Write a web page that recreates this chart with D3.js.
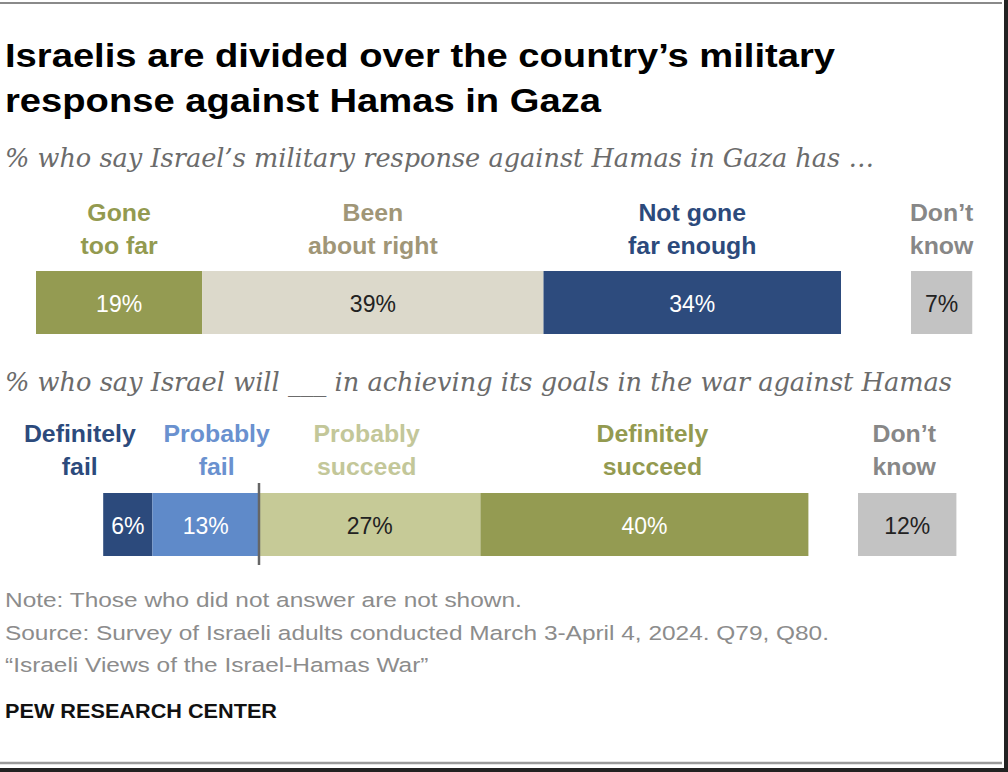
<!DOCTYPE html>
<html>
<head>
<meta charset="utf-8">
<script src="https://cdn.jsdelivr.net/npm/d3@7"></script>
<style>
  body { margin: 0; background: #fff; }
  svg { display: block; }
  text { font-family: "Liberation Sans", Arial, sans-serif; }
  text.serif { font-family: "DejaVu Serif", "Liberation Serif", serif; font-style: italic; }
</style>
</head>
<body>
<div id="chart"></div>
<script>
// Data
const q1Labels = [["Gone", "too far"], ["Been", "about right"], ["Not gone", "far enough"]];
const q1Values = [19, 39, 34];
const q1DontKnow = 7;

const q2Labels = [["Definitely", "fail"], ["Probably", "fail"], ["Probably", "succeed"], ["Definitely", "succeed"]];
const q2Values = [6, 13, 27, 40];
const q2Sides = [-1, -1, 1, 1];
const q2DontKnow = 12;

const dkLabel = ["Don\u2019t", "know"];

// Colours
const q1Colors = ["#949b52", "#dcd9cb", "#2d4b7d"];
const q1LabelColors = ["#939a50", "#a09677", "#2c4a7c"];
const q1TextColors = ["#fff", "#222", "#fff"];
const q2Colors = ["#2c4a7c", "#5f8ac9", "#c6ca97", "#949b52"];
const q2LabelColors = ["#2c4a7c", "#6a91cf", "#c3c799", "#939a50"];
const q2TextColors = ["#fff", "#fff", "#222", "#fff"];
const DK_COLOR = "#c3c3c3";
const DK_LABEL_COLOR = "#878787";

// Layout
const WIDTH = 1008;
const HEIGHT = 772;
const BAR1 = { x0: 36, top: 271, height: 63, dkX: 911, pxPerPct: 8.75 };
const BAR2 = { zero: 259, top: 493, height: 63, dkX: 858, pxPerPct: 8.2 };
const Q2_LABEL_NUDGE = [-48, 11, -3, 8, -3];

const svg = d3
  .select("#chart")
  .append("svg")
  .attr("width", WIDTH)
  .attr("height", HEIGHT);

svg.append("rect").attr("width", WIDTH).attr("height", HEIGHT).attr("fill", "#fff");

// squeeze/stretch a text node to a width
function fitTo(sel, width) {
  sel.attr("textLength", width).attr("lengthAdjust", "spacingAndGlyphs");
}
function scaleText(sel, k) {
  sel.each(function () {
    const w = this.getComputedTextLength();
    d3.select(this).attr("textLength", w * k).attr("lengthAdjust", "spacingAndGlyphs");
  });
}

drawFrame();
drawHeader();
drawQ1();
drawQ2();
drawFooter();

function drawFrame() {
  svg.append("line").attr("x1", 0).attr("x2", 1002).attr("y1", 3).attr("y2", 3)
    .attr("stroke", "#8a8a8a").attr("stroke-width", 2);
  svg.append("line").attr("x1", 0).attr("x2", 1002).attr("y1", 763).attr("y2", 763)
    .attr("stroke", "#9a9a9a").attr("stroke-width", 2.5);
  svg.append("rect").attr("x", 0).attr("y", 768).attr("width", WIDTH).attr("height", 4).attr("fill", "#222");
  svg.append("rect").attr("x", 1004).attr("y", 0).attr("width", 4).attr("height", HEIGHT).attr("fill", "#222");
}

function drawHeader() {
  const t1 = svg.append("text").attr("x", 5).attr("y", 67)
    .attr("font-size", 34).attr("font-weight", "bold").attr("fill", "#000")
    .text("Israelis are divided over the country\u2019s military");
  const k = 830 / t1.node().getComputedTextLength();
  fitTo(t1, 830);
  const t2 = svg.append("text").attr("x", 5).attr("y", 112)
    .attr("font-size", 34).attr("font-weight", "bold").attr("fill", "#000")
    .text("response against Hamas in Gaza");
  scaleText(t2, k);

  const s1 = svg.append("text").attr("class", "serif").attr("x", 5).attr("y", 167)
    .attr("font-size", 26).attr("fill", "#6b6b6b")
    .text("% who say Israel\u2019s military response against Hamas in Gaza has \u2026");
  fitTo(s1, 869);
}

function drawLabel(x, yTop, lines, color) {
  const t = svg.append("text").attr("text-anchor", "middle")
    .attr("font-size", 23).attr("font-weight", "bold").attr("fill", color);
  lines.forEach((line, i) => {
    t.append("tspan").attr("x", x).attr("y", yTop + i * 33).text(line);
  });
  t.selectAll("tspan").call(scaleText, 1.08);
}

function drawQ1() {
  const x = d3.scaleLinear().domain([0, 100]).range([0, 100 * BAR1.pxPerPct]);
  let acc = 0;
  const segs = q1Values.map((v, i) => {
    const s = { v, i, start: acc, end: acc + v };
    acc += v;
    return s;
  });

  const g = svg.append("g").attr("class", "q1");
  g.selectAll("rect.seg").data(segs).enter().append("rect")
    .attr("class", "seg")
    .attr("x", (d) => BAR1.x0 + x(d.start))
    .attr("y", BAR1.top)
    .attr("width", (d) => x(d.v))
    .attr("height", BAR1.height)
    .attr("fill", (d) => q1Colors[d.i]);

  g.selectAll("text.val").data(segs).enter().append("text")
    .attr("class", "val")
    .attr("x", (d) => BAR1.x0 + x((d.start + d.end) / 2))
    .attr("y", BAR1.top + BAR1.height / 2 + 9)
    .attr("text-anchor", "middle").attr("font-size", 23)
    .attr("fill", (d) => q1TextColors[d.i])
    .text((d) => d.v + "%");

  segs.forEach((d) => {
    drawLabel(BAR1.x0 + x((d.start + d.end) / 2), 221, q1Labels[d.i], q1LabelColors[d.i]);
  });

  // don't know
  g.append("rect").attr("x", BAR1.dkX).attr("y", BAR1.top)
    .attr("width", x(q1DontKnow)).attr("height", BAR1.height).attr("fill", DK_COLOR);
  g.append("text").attr("x", BAR1.dkX + x(q1DontKnow) / 2).attr("y", BAR1.top + BAR1.height / 2 + 9)
    .attr("text-anchor", "middle").attr("font-size", 23).attr("fill", "#222")
    .text(q1DontKnow + "%");
  drawLabel(BAR1.dkX + x(q1DontKnow) / 2, 221, dkLabel, DK_LABEL_COLOR);
}

function drawQ2() {
  const s2 = svg.append("text").attr("class", "serif").attr("x", 5).attr("y", 391)
    .attr("font-size", 26).attr("fill", "#6b6b6b")
    .text("% who say Israel will ___ in achieving its goals in the war against Hamas");
  fitTo(s2, 947);

  const x = d3.scaleLinear()
    .domain([-100, 100])
    .range([BAR2.zero - 100 * BAR2.pxPerPct, BAR2.zero + 100 * BAR2.pxPerPct]);
  const len = (v) => x(v) - x(0);

  // stack outward from the zero line
  let neg = 0, pos = 0;
  const segs = [];
  for (let i = q2Values.length - 1; i >= 0; i--) {
    if (q2Sides[i] < 0) { segs[i] = { i, v: q2Values[i], start: -(neg + q2Values[i]), end: -neg }; neg += q2Values[i]; }
  }
  q2Values.forEach((v, i) => {
    if (q2Sides[i] > 0) { segs[i] = { i, v, start: pos, end: pos + v }; pos += v; }
  });

  const g = svg.append("g").attr("class", "q2");
  g.selectAll("rect.seg").data(segs).enter().append("rect")
    .attr("class", "seg")
    .attr("x", (d) => x(d.start))
    .attr("y", BAR2.top)
    .attr("width", (d) => x(d.end) - x(d.start))
    .attr("height", BAR2.height)
    .attr("fill", (d) => q2Colors[d.i]);

  g.selectAll("text.val").data(segs).enter().append("text")
    .attr("class", "val")
    .attr("x", (d) => x((d.start + d.end) / 2))
    .attr("y", BAR2.top + BAR2.height / 2 + 9)
    .attr("text-anchor", "middle").attr("font-size", 23)
    .attr("fill", (d) => q2TextColors[d.i])
    .text((d) => d.v + "%");

  segs.forEach((d) => {
    drawLabel(x((d.start + d.end) / 2) + Q2_LABEL_NUDGE[d.i], 442, q2Labels[d.i], q2LabelColors[d.i]);
  });

  // zero line
  g.append("line").attr("x1", x(0)).attr("x2", x(0))
    .attr("y1", BAR2.top - 10).attr("y2", BAR2.top + BAR2.height + 9)
    .attr("stroke", "#666").attr("stroke-width", 2.5);

  // don't know
  g.append("rect").attr("x", BAR2.dkX).attr("y", BAR2.top)
    .attr("width", len(q2DontKnow)).attr("height", BAR2.height).attr("fill", DK_COLOR);
  g.append("text").attr("x", BAR2.dkX + len(q2DontKnow) / 2).attr("y", BAR2.top + BAR2.height / 2 + 9)
    .attr("text-anchor", "middle").attr("font-size", 23).attr("fill", "#222")
    .text(q2DontKnow + "%");
  drawLabel(BAR2.dkX + len(q2DontKnow) / 2 + Q2_LABEL_NUDGE[4], 442, dkLabel, DK_LABEL_COLOR);
}

function drawFooter() {
  const notes = [
    ["Note: Those who did not answer are not shown.", 607],
    ["Source: Survey of Israeli adults conducted March 3-April 4, 2024. Q79, Q80.", 640],
    ["\u201cIsraeli Views of the Israel-Hamas War\u201d", 672],
  ];
  const nt = svg.selectAll("text.note").data(notes).enter().append("text")
    .attr("class", "note")
    .attr("x", 5).attr("y", (d) => d[1])
    .attr("font-size", 20.5).attr("fill", "#8c8c8c")
    .text((d) => d[0]);
  const k = 824 / nt.filter((d, i) => i === 1).node().getComputedTextLength();
  nt.call(scaleText, k);

  const pew = svg.append("text").attr("x", 5).attr("y", 718)
    .attr("font-size", 21).attr("font-weight", "bold").attr("fill", "#111")
    .text("PEW RESEARCH CENTER");
  fitTo(pew, 272);
}
</script>
</body>
</html>
